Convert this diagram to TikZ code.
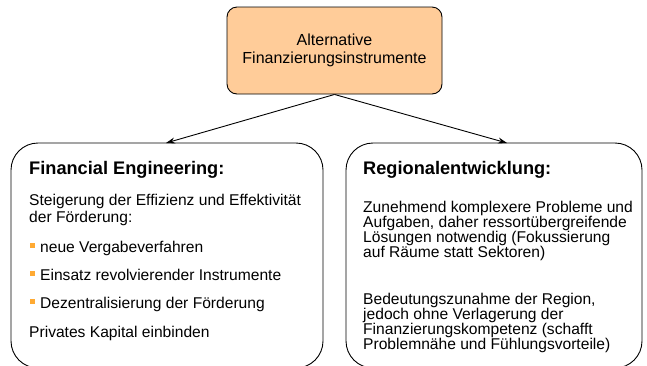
\documentclass[tikz,border=0pt]{standalone}
\usepackage{fontspec}
\setmainfont{Liberation Sans}
\usetikzlibrary{arrows.meta}
\definecolor{topfill}{RGB}{255,204,153}
\definecolor{bulletc}{RGB}{255,170,51}
\begin{document}
\begin{tikzpicture}[x=1pt,y=-1pt,
  topbox/.style={draw=black,line width=0.9pt,fill=topfill,rounded corners=10pt},
  lowbox/.style={draw=black,line width=0.9pt,rounded corners=27pt},
  conn/.style={-{Stealth[length=9pt,width=6pt]},line width=0.9pt},
  txt/.style={anchor=base west,inner sep=0pt,font=\fontsize{15.6}{18}\selectfont},
  ttl/.style={anchor=base west,inner sep=0pt,font=\fontsize{18.2}{20}\selectfont\bfseries},
  bul/.style={fill=bulletc,minimum size=5pt,inner sep=0pt}]
\useasboundingbox (0,0) rectangle (647,365);
% boxes
\node[topbox,minimum width=215pt,minimum height=87pt,align=center,font=\fontsize{16}{18}\selectfont] (top) at (334.5,50.5) {Alternative\\Finanzierungsinstrumente};
\draw[lowbox] (11,143) rectangle (323,368);
\draw[lowbox] (346,143) rectangle (642,368);
\coordinate (lt) at (166,143);
\coordinate (rt) at (507,143);
\draw[conn] (top.south) -- (lt);
\draw[conn] (top.south) -- (rt);
% left text
\node[ttl] (l0) at (29,174) {Financial Engineering:};
\node[txt] (l1) at (29,205) {Steigerung der Effizienz und Effektivität};
\node[txt] (l2) at (29,222) {der Förderung:};
\node[bul] (b1) at (32.5,245.5) {};
\node[txt] (l3) at (40,252) {neue Vergabeverfahren};
\node[bul] (b2) at (32.5,273.5) {};
\node[txt] (l4) at (40,280) {Einsatz revolvierender Instrumente};
\node[bul] (b3) at (32.5,301.5) {};
\node[txt] (l5) at (40,308) {Dezentralisierung der Förderung};
\node[txt] (l6) at (29,337) {Privates Kapital einbinden};
% right text
\node[ttl] (r0) at (363,174) {Regionalentwicklung:};
\node[txt] (r1) at (363,212) {Zunehmend komplexere Probleme und};
\node[txt] (r2) at (363,227) {Aufgaben, daher ressortübergreifende};
\node[txt] (r3) at (363,242) {Lösungen notwendig (Fokussierung};
\node[txt] (r4) at (363,257) {auf Räume statt Sektoren)};
\node[txt] (r5) at (363,304) {Bedeutungszunahme der Region,};
\node[txt] (r6) at (363,319) {jedoch ohne Verlagerung der};
\node[txt] (r7) at (363,334) {Finanzierungskompetenz (schafft};
\node[txt] (r8) at (363,349) {Problemnähe und Fühlungsvorteile)};
\end{tikzpicture}
\end{document}
